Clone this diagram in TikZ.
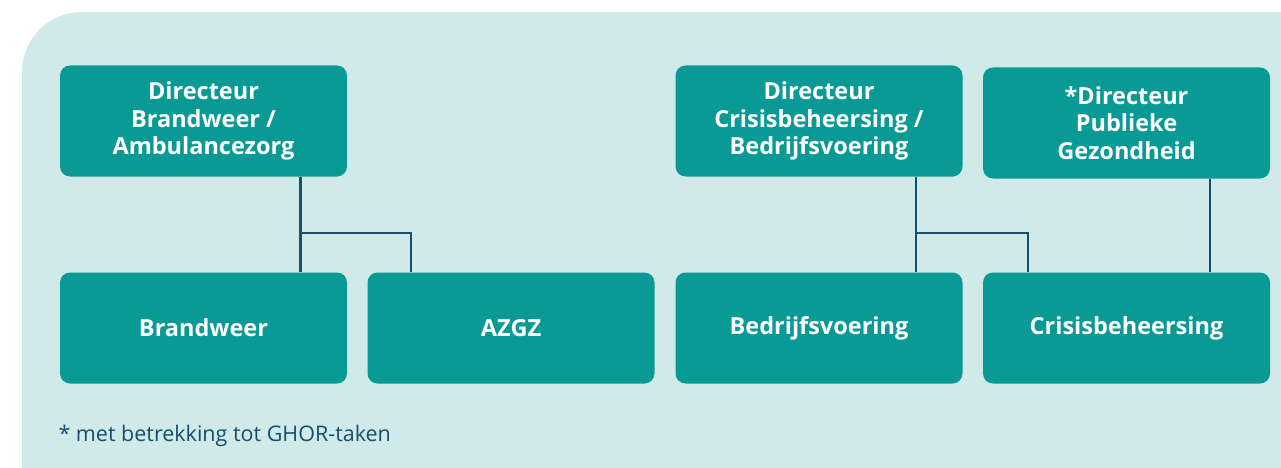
\documentclass[tikz,border=0pt]{standalone}
\usepackage{fontspec}
\setmainfont{Open Sans}
\definecolor{panelbg}{HTML}{D0EAEA}
\definecolor{boxteal}{HTML}{0A9A96}
\definecolor{linkblue}{HTML}{154F6B}
\tikzset{
    unit/.style={rectangle, rounded corners=10pt, fill=boxteal, text=white,
        minimum width=287pt, minimum height=111pt, align=center,
        font=\fontsize{23.5}{27.5}\selectfont\bfseries},
    link/.style={-, draw=linkblue, line width=2.6pt},
    note/.style={anchor=west, text=linkblue, font=\fontsize{21.5}{24}\selectfont},
}
\begin{document}
\begin{tikzpicture}[x=1pt, y=-1pt]
    \useasboundingbox (0,0) rectangle (1281,468);
    \fill[panelbg] (1281,468) -- (22,468) -- (22,72)
        arc[start angle=180, end angle=270, radius=60] -- (1281,12) -- cycle;
    % top row
    \node[unit] (dba) at (203.5,121) {Directeur\\Brandweer /\\Ambulancezorg};
    \node[unit] (dcb) at (819,121) {Directeur\\Crisisbeheersing /\\Bedrijfsvoering};
    \node[unit] (dpg) at (1126.5,123) {*Directeur\\Publieke\\Gezondheid};
    % bottom row
    \node[unit] (brw) at (203.5,328) {Brandweer};
    \node[unit] (azgz) at (511,328) {AZGZ};
    \node[unit] (bdv) at (819,328) {Bedrijfsvoering};
    \node[unit] (crb) at (1126.5,328) {Crisisbeheersing};
    \coordinate (split) at (0,233);
    \draw[link] ([xshift=97pt]dba.south) -- ([xshift=97pt]brw.north);
    \draw[link] ([xshift=97pt]dba.south |- split) -| ([xshift=-100pt]azgz.north);
    \draw[link] ([xshift=97pt]dcb.south) -- ([xshift=97pt]bdv.north);
    \draw[link] ([xshift=97pt]dcb.south |- split) -| ([xshift=-98.5pt]crb.north);
    \draw[link] ([xshift=83.5pt]dpg.south) -- ([xshift=83.5pt]crb.north);
    \node[note] (fn) at (55,436) {* met betrekking tot GHOR-taken};
\end{tikzpicture}
\end{document}
